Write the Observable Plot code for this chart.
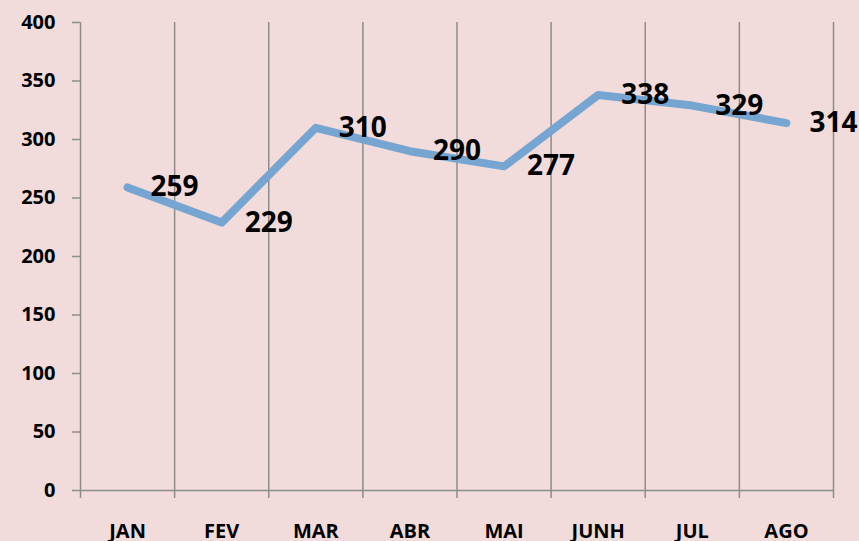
<!DOCTYPE html>
<html>
<head>
<meta charset="utf-8">
<script src="https://cdn.jsdelivr.net/npm/d3@7"></script>
<script src="https://cdn.jsdelivr.net/npm/@observablehq/plot@0.6"></script>
<style>
  html, body { margin: 0; padding: 0; background: #F2DCDB; }
  #chart svg { display: block; }
</style>
</head>
<body>
<div id="chart"></div>
<script>
const months = ["JAN", "FEV", "MAR", "ABR", "MAI", "JUNH", "JUL", "AGO"];
const values = [259, 229, 310, 290, 277, 338, 329, 314];
const yTicks = [0, 50, 100, 150, 200, 250, 300, 350, 400];

const data = months.map((m, i) => ({month: m, pos: i + 0.5, value: values[i]}));
const gridColor = "#8c8c8c";

const chart = Plot.plot({
  width: 859,
  height: 541,
  marginLeft: 80,
  marginRight: 26,
  marginTop: 22,
  marginBottom: 51,
  style: {background: "#F2DCDB", fontFamily: "'Open Sans', sans-serif", overflow: "visible"},
  x: {domain: [0, months.length], axis: null, label: null},
  y: {domain: [0, 400], axis: null, label: null},
  marks: [
    Plot.ruleX(d3.range(0, months.length + 1), {stroke: gridColor, strokeWidth: 1.5}),
    Plot.ruleY([0], {stroke: gridColor, strokeWidth: 1.5}),
    Plot.axisY({ticks: yTicks, tickSize: 8, tickPadding: 17, fontSize: 20, fontWeight: "bold",
      stroke: gridColor, strokeWidth: 1.5, fill: "black", tickFormat: d => d, label: null}),
    Plot.axisX({ticks: d3.range(0, months.length + 1), tickSize: 8, tickFormat: () => "",
      stroke: gridColor, strokeWidth: 1.5, label: null}),
    Plot.axisX({ticks: data.map(d => d.pos), tickSize: 0, tickPadding: 33, fontSize: 20, fontWeight: "bold",
      fill: "black", tickFormat: (d, i) => months[i], label: null}),
    Plot.line(data, {x: "pos", y: "value", stroke: "#76A5D2", strokeWidth: 8,
      strokeLinecap: "round", strokeLinejoin: "round"}),
    Plot.text(data, {x: "pos", y: "value", text: d => String(d.value), dx: 23, textAnchor: "start",
      fontSize: 28, fontWeight: "bold", fill: "black"})
  ]
});
document.getElementById("chart").appendChild(chart);
</script>
</body>
</html>
